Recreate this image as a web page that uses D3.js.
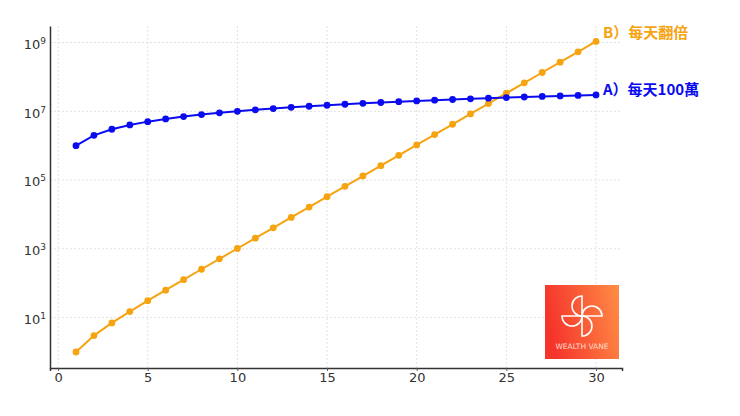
<!DOCTYPE html>
<html>
<head>
<meta charset="utf-8">
<script src="https://cdn.jsdelivr.net/npm/d3@7"></script>
<style>
  html, body { margin: 0; padding: 0; background: #fff; }
  svg { display: block; }
</style>
</head>
<body>
<svg id="chart" width="740" height="416"></svg>
<script>
const days = [1,2,3,4,5,6,7,8,9,10,11,12,13,14,15,16,17,18,19,20,21,22,23,24,25,26,27,28,29,30];
const seriesA = [1e6,2e6,3e6,4e6,5e6,6e6,7e6,8e6,9e6,10e6,11e6,12e6,13e6,14e6,15e6,16e6,17e6,18e6,19e6,20e6,21e6,22e6,23e6,24e6,25e6,26e6,27e6,28e6,29e6,30e6];
const seriesB = [1,3,7,15,31,63,127,255,511,1023,2047,4095,8191,16383,32767,65535,131071,262143,524287,1048575,2097151,4194303,8388607,16777215,33554431,67108863,134217727,268435455,536870911,1073741823];
const labelA = "A）每天100萬";
const labelB = "B）每天翻倍";
const xTicks = [0,5,10,15,20,25,30];
const yTickExps = [1,3,5,7,9];

const svg = d3.select("#chart");
const mLeft = 50, mRight = 622, mTop = 26, mBottom = 368;

const x = d3.scaleLinear().domain([-0.45, 31.45]).range([mLeft, mRight]);
const y = d3.scaleLog().domain([Math.pow(10,-0.465), Math.pow(10,9.48)]).range([mBottom, mTop]);

const tickFont = "'DejaVu Sans', sans-serif";

// grid
const grid = svg.append("g");
grid.selectAll("line.v").data(xTicks).join("line")
  .attr("x1", d => x(d)).attr("x2", d => x(d))
  .attr("y1", mTop).attr("y2", mBottom)
  .attr("stroke", "#d9d9d9").attr("stroke-width", 0.8).attr("stroke-dasharray", "2,2");
grid.selectAll("line.h").data(yTickExps).join("line")
  .attr("x1", mLeft).attr("x2", mRight)
  .attr("y1", d => y(Math.pow(10,d))).attr("y2", d => y(Math.pow(10,d)))
  .attr("stroke", "#d9d9d9").attr("stroke-width", 0.8).attr("stroke-dasharray", "2,2");

// axes
const xAxis = d3.axisBottom(x).tickValues(xTicks).tickSize(3).tickPadding(2);
const gx = svg.append("g").attr("transform", `translate(0,${mBottom})`).call(xAxis);
gx.select(".domain").attr("stroke", "#333").attr("stroke-width", 1.5);
gx.selectAll(".tick line").attr("stroke", "#555");
gx.selectAll(".tick text").attr("font-family", tickFont).attr("font-size", 13).attr("fill", "#333");

const yAxis = d3.axisLeft(y).tickValues(yTickExps.map(e => Math.pow(10,e))).tickSize(0).tickPadding(6).tickFormat("");
const gy = svg.append("g").attr("transform", `translate(${mLeft},0)`).call(yAxis);
gy.select(".domain").attr("stroke", "#333").attr("stroke-width", 1.5);
gy.selectAll(".tick").each(function(d) {
  const e = Math.round(Math.log10(d));
  const t = d3.select(this).select("text")
    .attr("font-family", tickFont).attr("font-size", 13).attr("fill", "#333")
    .attr("x", -4).attr("dy", "0.45em").attr("text-anchor", "end");
  t.append("tspan").text("10");
  t.append("tspan").attr("font-size", 9).attr("dy", "-0.55em").text(e);
});

// lines
const colorA = "#0b0bf0", colorB = "#f5a30f";
function drawSeries(vals, color) {
  const data = days.map((d,i) => [d, vals[i]]);
  svg.append("path").datum(data)
    .attr("fill", "none").attr("stroke", color).attr("stroke-width", 2)
    .attr("d", d3.line().x(d => x(d[0])).y(d => y(d[1])));
  svg.append("g").selectAll("circle").data(data).join("circle")
    .attr("cx", d => x(d[0])).attr("cy", d => y(d[1])).attr("r", 3.4).attr("fill", color);
  return data;
}
drawSeries(seriesB, colorB);
drawSeries(seriesA, colorA);

const labFont = "'Noto Sans CJK TC', 'Noto Sans CJK SC', sans-serif";
svg.append("text").attr("x", x(30) + 7).attr("y", y(seriesB[29]) - 3)
  .attr("font-family", labFont).attr("font-weight", "bold").attr("font-size", 15)
  .attr("fill", colorB).text(labelB);
svg.append("text").attr("x", x(30) + 7).attr("y", y(seriesA[29]) - 0)
  .attr("font-family", labFont).attr("font-weight", "bold").attr("font-size", 15)
  .attr("fill", colorA).text(labelA);

// logo
const defs = svg.append("defs");
const lg = defs.append("linearGradient").attr("id", "lg").attr("x1", "0").attr("x2", "1").attr("y1", "0.2").attr("y2", "0");
lg.append("stop").attr("offset", "0").attr("stop-color", "#f5352c");
lg.append("stop").attr("offset", "1").attr("stop-color", "#ff8d45");
const lx = 545, ly = 285, ls = 74;
const logo = svg.append("g");
logo.append("rect").attr("x", lx).attr("y", ly).attr("width", ls).attr("height", ls).attr("fill", "url(#lg)");
const cx = 582, cy = 316, r = 10;
const blades = [
  `M${cx},${cy} L${cx},${cy-2*r} A${r},${r} 0 0,0 ${cx},${cy}`,
  `M${cx},${cy} L${cx+2*r},${cy} A${r},${r} 0 0,0 ${cx},${cy}`,
  `M${cx},${cy} L${cx},${cy+2*r} A${r},${r} 0 0,0 ${cx},${cy}`,
  `M${cx},${cy} L${cx-2*r},${cy} A${r},${r} 0 0,0 ${cx},${cy}`
];
logo.selectAll("path.b").data(blades).join("path")
  .attr("d", d => d).attr("fill", "none").attr("stroke", "#fff").attr("stroke-width", 1.6);
logo.append("text").attr("x", lx + ls/2).attr("y", 349).attr("text-anchor", "middle")
  .attr("font-family", "'DejaVu Sans', sans-serif").attr("font-size", 7.5)
  .attr("fill", "#ffd9cc").text("WEALTH VANE");
</script>
</body>
</html>
